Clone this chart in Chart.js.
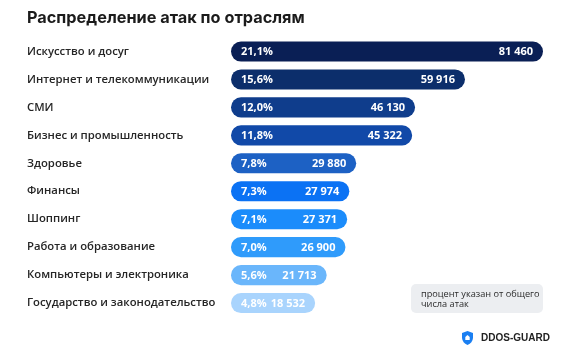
<!DOCTYPE html>
<html>
<head>
<meta charset="utf-8">
<script src="https://cdn.jsdelivr.net/npm/chart.js@4.4.1/dist/chart.umd.min.js"></script>
<style>
  html, body { margin: 0; padding: 0; background: #ffffff; }
  #wrap { width: 571px; height: 358px; position: relative; }
</style>
</head>
<body>
<div id="wrap"><canvas id="c" width="571" height="358"></canvas></div>
<script>
const categories = [
  'Искусство и досуг',
  'Интернет и телекоммуникации',
  'СМИ',
  'Бизнес и промышленность',
  'Здоровье',
  'Финансы',
  'Шоппинг',
  'Работа и образование',
  'Компьютеры и электроника',
  'Государство и законодательство'
];
const attacks = [81460, 59916, 46130, 45322, 29880, 27974, 27371, 26900, 21713, 18532];
const percents = ['21,1%', '15,6%', '12,0%', '11,8%', '7,8%', '7,3%', '7,1%', '7,0%', '5,6%', '4,8%'];
const valueLabels = ['81 460', '59 916', '46 130', '45 322', '29 880', '27 974', '27 371', '26 900', '21 713', '18 532'];
const barColors = ['#0a1f55', '#0c2e6b', '#0f3d8c', '#1149a8', '#1d61c4', '#0b72f4', '#1b8cfb', '#2f9bfb', '#6ab6fb', '#a9d4fd'];
const titleText = 'Распределение атак по отраслям';
const noteLines = ['процент указан от общего', 'числа атак'];
const brandText = 'DDOS-GUARD';
const axisStart = -4700;

const labelPlugin = {
  id: 'barText',
  afterDatasetsDraw(chart) {
    const ctx = chart.ctx;
    const meta = chart.getDatasetMeta(0);
    ctx.save();
    ctx.fillStyle = '#ffffff';
    ctx.textBaseline = 'middle';
    ctx.font = '700 11px "Open Sans"';
    meta.data.forEach((bar, i) => {
      ctx.textAlign = 'left';
      ctx.fillText(percents[i], bar.base + 10, bar.y + 0.5);
      ctx.textAlign = 'right';
      ctx.fillText(valueLabels[i], bar.x - 10, bar.y + 0.5);
    });
    ctx.restore();
  },
  afterDraw(chart) {
    const ctx = chart.ctx;
    ctx.save();
    // note box
    const bx = 411, by = 284, bw = 132, bh = 29;
    ctx.fillStyle = '#eceef1';
    ctx.beginPath();
    ctx.roundRect(bx, by, bw, bh, 5);
    ctx.fill();
    ctx.fillStyle = '#2b2b2b';
    ctx.font = '500 9.2px "Open Sans"';
    ctx.textAlign = 'left';
    ctx.textBaseline = 'middle';
    ctx.fillText(noteLines[0], bx + 10, by + 10);
    ctx.fillText(noteLines[1], bx + 10, by + 20.5);
    // shield logo
    const sx = 467.5, sy = 331;
    ctx.fillStyle = '#1a7ff2';
    ctx.beginPath();
    ctx.moveTo(sx, sy);
    ctx.lineTo(sx + 5.5, sy + 2);
    ctx.lineTo(sx + 5.5, sy + 7);
    ctx.quadraticCurveTo(sx + 5, sy + 12, sx, sy + 14);
    ctx.quadraticCurveTo(sx - 5, sy + 12, sx - 5.5, sy + 7);
    ctx.lineTo(sx - 5.5, sy + 2);
    ctx.closePath();
    ctx.fill();
    ctx.fillStyle = '#ffffff';
    ctx.beginPath();
    ctx.moveTo(sx, sy + 4);
    ctx.lineTo(sx + 2.2, sy + 6);
    ctx.lineTo(sx + 2.2, sy + 9);
    ctx.lineTo(sx - 2.2, sy + 9);
    ctx.lineTo(sx - 2.2, sy + 6);
    ctx.closePath();
    ctx.fill();
    ctx.fillStyle = '#222222';
    ctx.font = '700 10px "Liberation Sans"';
    ctx.textAlign = 'left';
    ctx.fillText(brandText, 481, 338.5);
    ctx.restore();
  }
};

new Chart(document.getElementById('c'), {
  type: 'bar',
  data: {
    labels: categories,
    datasets: [{
      data: attacks,
      base: axisStart,
      backgroundColor: barColors,
      borderRadius: 10,
      borderSkipped: false,
      barPercentage: 0.72,
      categoryPercentage: 1
    }]
  },
  options: {
    indexAxis: 'y',
    responsive: false,
    animation: false,
    devicePixelRatio: 1,
    layout: { padding: { left: 27, right: 28, top: 0, bottom: 41 } },
    plugins: {
      legend: { display: false },
      tooltip: { enabled: false },
      title: {
        display: true,
        text: titleText,
        align: 'start',
        color: '#1b1b1b',
        font: { family: 'Inter', size: 16.3, weight: '700' },
        padding: { top: 8, bottom: 10 }
      }
    },
    scales: {
      x: {
        display: false,
        min: axisStart,
        max: Math.max(...attacks)
      },
      y: {
        grid: { display: false, drawTicks: false },
        border: { display: false },
        ticks: {
          crossAlign: 'far',
          padding: 0,
          color: '#262626',
          font: { family: 'Open Sans', size: 11.3, weight: '600' }
        },
        afterFit(scale) { scale.width = 204; }
      }
    }
  },
  plugins: [labelPlugin]
});
</script>
</body>
</html>
